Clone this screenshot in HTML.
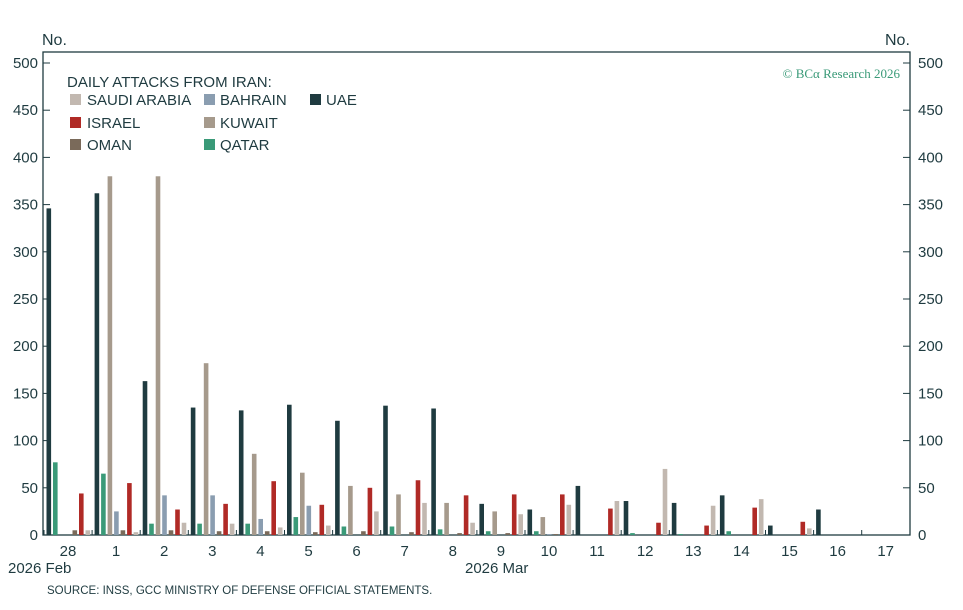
<!DOCTYPE html>
<html><head><meta charset="utf-8"><style>
body{margin:0;background:#fff;width:963px;height:610px;overflow:hidden}
svg{display:block;font-family:"Liberation Sans",sans-serif}
</style></head><body>
<svg id="s" width="963" height="610" viewBox="0 0 963 610" xmlns="http://www.w3.org/2000/svg">
<g fill="#1f3b40" font-size="16">
<text x="42" y="45">No.</text>
<text x="885" y="45">No.</text>
</g>
<rect x="43" y="52" width="867" height="483" fill="none" stroke="#1f3b40" stroke-width="1.3"/>
<g id="ticks" stroke="#1f3b40" stroke-width="1"></g>
<g id="ylab" fill="#1f3b40" font-size="15"></g>
<g id="bars"></g>
<g id="xlab" fill="#1f3b40" font-size="15" text-anchor="middle"></g>
<text x="8" y="573" fill="#1f3b40" font-size="15">2026 Feb</text>
<text x="465" y="573" fill="#1f3b40" font-size="15">2026 Mar</text>
<text x="47" y="594" fill="#1f3b40" font-size="11.5">SOURCE: INSS, GCC MINISTRY OF DEFENSE OFFICIAL STATEMENTS.</text>
<text x="900" y="78" fill="#3a9a78" font-size="13" text-anchor="end" font-family="Liberation Serif,serif">© BCα Research 2026</text>
<g fill="#1f3b40" font-size="15">
<text x="67" y="87">DAILY ATTACKS FROM IRAN:</text>
<rect x="70" y="94" width="11" height="11" fill="#c2b8b0"/><text x="87" y="105">SAUDI ARABIA</text>
<rect x="204" y="94" width="11" height="11" fill="#8a9db0"/><text x="220" y="105">BAHRAIN</text>
<rect x="310" y="94" width="11" height="11" fill="#1f3b40"/><text x="326" y="105">UAE</text>
<rect x="70" y="117" width="11" height="11" fill="#b02a26"/><text x="87" y="128">ISRAEL</text>
<rect x="204" y="117" width="11" height="11" fill="#a69a8c"/><text x="220" y="128">KUWAIT</text>
<rect x="70" y="139" width="11" height="11" fill="#7a6a5a"/><text x="87" y="150">OMAN</text>
<rect x="204" y="139" width="11" height="11" fill="#3a9a78"/><text x="220" y="150">QATAR</text>
</g>
</svg>
<script>
const ns="http://www.w3.org/2000/svg";
function el(p,t,a,txt){const e=document.createElementNS(ns,t);for(const k in a)e.setAttribute(k,a[k]);if(txt!=null)e.textContent=txt;document.getElementById(p).appendChild(e);}
const y0=535,k=0.944;
for(let v=0;v<=500;v+=50){const y=y0-v*k;
el('ticks','line',{x1:43,x2:50,y1:y,y2:y});el('ticks','line',{x1:903,x2:910,y1:y,y2:y});
el('ylab','text',{x:38,y:y+5,'text-anchor':'end'},v);el('ylab','text',{x:918,y:y+5},v);}
const cols=["#1f3b40","#3a9a78","#a69a8c","#8a9db0","#7a6a5a","#b02a26","#c2b8b0"];
const d=[[346,77,0,0,5,44,5],[362,65,380,25,5,55,3],[163,12,380,42,5,27,13],[135,12,182,42,4,33,12],
[132,12,86,17,4,57,8],[138,19,66,31,3,32,10],[121,9,52,0,4,50,25],[137,9,43,0,3,58,34],
[134,6,34,0,2,42,13],[33,4,25,0,2,43,22],[27,4,19,1,1,43,32],[52,0,0,0,0,28,36],
[36,2,0,0,0,13,70],[34,1,0,0,0,10,31],[42,4,0,0,0,29,38],[10,0,0,0,0,14,7],[27,0,0,0,0,0,0],[0,0,0,0,0,0,0]];
const labs=["28","1","2","3","4","5","6","7","8","9","10","11","12","13","14","15","16","17"];
for(let i=0;i<18;i++){const g=46.5+48.1*i;
d[i].forEach((v,j)=>{if(v>0)el('bars','rect',{x:g+j*6.5,y:y0-v*k,width:4.6,height:v*k,fill:cols[j]});});
el('xlab','text',{x:g+21.5,y:556},labs[i]);
el('ticks','line',{x1:g-2.5,x2:g-2.5,y1:y0,y2:y0-5});}
</script>
</body></html>
